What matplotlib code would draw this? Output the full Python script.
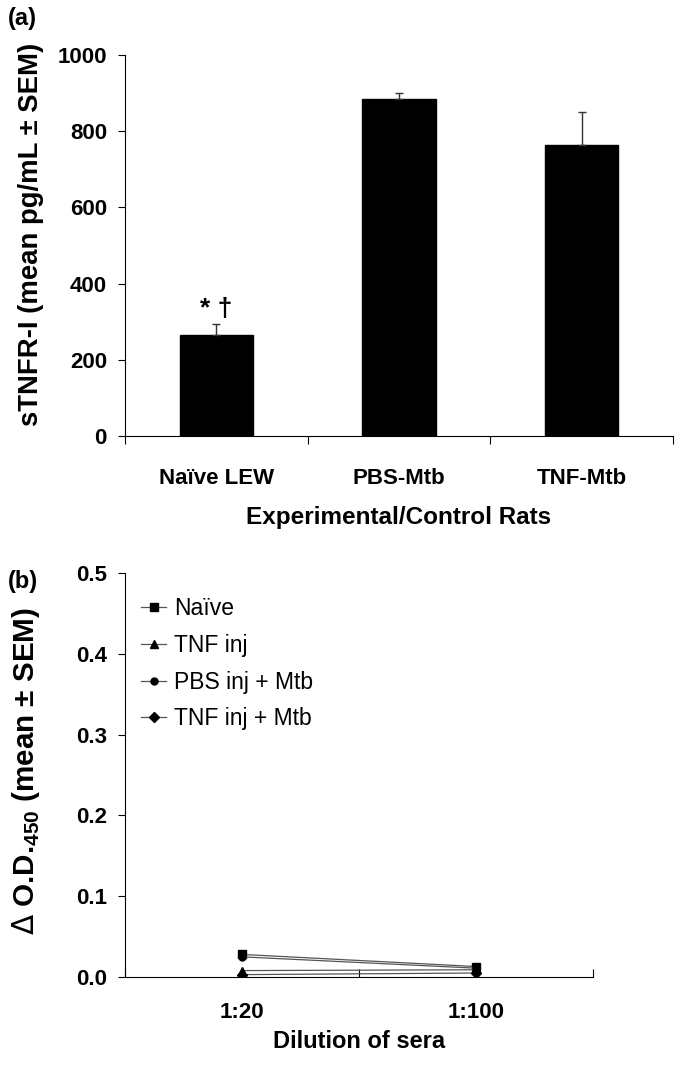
import numpy as np
import matplotlib
matplotlib.use('Agg')
import matplotlib.pyplot as plt

plt.rcParams['font.family'] = ['Liberation Sans', 'DejaVu Sans']

# panel (a) data
groups = ['Naïve LEW', 'PBS-Mtb', 'TNF-Mtb']
stnfr = [265, 885, 763]
stnfr_sem = [30, 14, 87]

# panel (b) data
dilutions = ['1:20', '1:100']
od_series = {
    'Naïve': [0.028, 0.013],
    'TNF inj': [0.008, 0.009],
    'PBS inj + Mtb': [0.025, 0.011],
    'TNF inj + Mtb': [0.003, 0.005],
}
od_markers = ['s', '^', 'o', 'D']
od_sizes = [6, 6, 5, 5]

TICK_FS = 16

fig = plt.figure(figsize=(6.85, 10.67), dpi=100)
fig.set_facecolor('w')

# ---- (a) bar chart
ax1 = fig.add_axes([0.1825, 0.5914, 0.80, 0.3571])
x = np.arange(len(groups)) + 0.5
ax1.bar(x, stnfr, width=0.40, color='k', edgecolor='k')
ax1.errorbar(x, stnfr, yerr=[np.zeros(3), stnfr_sem], fmt='none',
             ecolor='#333333', elinewidth=1, capsize=3, capthick=1)
ax1.text(x[0], stnfr[0] + stnfr_sem[0] + 8, '* †', ha='center', va='bottom',
         fontsize=19, fontweight='bold')
ax1.set_xlim(0, 3)
ax1.set_ylim(0, 1000)
ax1.set_yticks([0, 200, 400, 600, 800, 1000])
ax1.set_xticks([0, 1, 2, 3])
ax1.set_xticklabels([])
ax1.set_xticks(x, minor=True)
ax1.set_xticklabels(groups, minor=True)
ax1.tick_params(axis='x', which='minor', length=0, pad=23)
ax1.tick_params(axis='x', which='major', direction='out', length=6)
ax1.tick_params(axis='y', direction='out', length=5, pad=8)
for lab in ax1.get_xticklabels(minor=True) + ax1.get_yticklabels():
    lab.set_fontsize(TICK_FS)
    lab.set_fontweight('bold')
ax1.spines['top'].set_visible(False)
ax1.spines['right'].set_visible(False)
ax1.set_ylabel('sTNFR-I (mean pg/mL ± SEM)', fontsize=19.8, fontweight='bold')
ax1.yaxis.set_label_coords(-0.148, 0.528)
ax1.set_xlabel('Experimental/Control Rats', fontsize=17.5, fontweight='bold')
ax1.xaxis.set_label_coords(0.5, -0.183)

# ---- (b) line chart
ax2 = fig.add_axes([0.1825, 0.0843, 0.6832, 0.3787])
xb = np.arange(len(dilutions)) + 0.5
for (name, vals), m, ms in zip(od_series.items(), od_markers, od_sizes):
    ax2.plot(xb, vals, color='#555555', linewidth=0.9, marker=m, markersize=ms,
             markerfacecolor='k', markeredgecolor='k', label=name)
ax2.set_xlim(0, 2)
ax2.set_ylim(0, 0.5)
ax2.set_yticks([0.0, 0.1, 0.2, 0.3, 0.4, 0.5])
ax2.set_yticklabels(['0.0', '0.1', '0.2', '0.3', '0.4', '0.5'])
ax2.set_xticks([0, 1, 2])
ax2.set_xticklabels([])
ax2.set_xticks(xb, minor=True)
ax2.set_xticklabels(dilutions, minor=True)
ax2.tick_params(axis='x', which='minor', length=0, pad=18)
ax2.tick_params(axis='x', which='major', direction='in', length=6)
ax2.tick_params(axis='y', direction='out', length=5, pad=8)
for lab in ax2.get_xticklabels(minor=True) + ax2.get_yticklabels():
    lab.set_fontsize(TICK_FS)
    lab.set_fontweight('bold')
ax2.spines['top'].set_visible(False)
ax2.spines['right'].set_visible(False)
ax2.set_ylabel(r'$\Delta$ O.D.$_{\mathregular{450}}$ (mean ± SEM)', fontsize=21.3,
               fontweight='bold')
ax2.yaxis.set_label_coords(-0.177, 0.509)
ax2.set_xlabel('Dilution of sera', fontsize=17, fontweight='bold')
ax2.xaxis.set_label_coords(0.5, -0.130)
leg = ax2.legend(loc='upper left', bbox_to_anchor=(0.0, 0.98), frameon=False,
                 fontsize=16.5, handlelength=1.1, handletextpad=0.35,
                 labelspacing=0.6, borderaxespad=0.3)

fig.text(0.012, 0.983, '(a)', fontsize=17, fontweight='bold', va='center')
fig.text(0.012, 0.455, '(b)', fontsize=17, fontweight='bold', va='center')

fig.savefig('out.png', dpi=100)
